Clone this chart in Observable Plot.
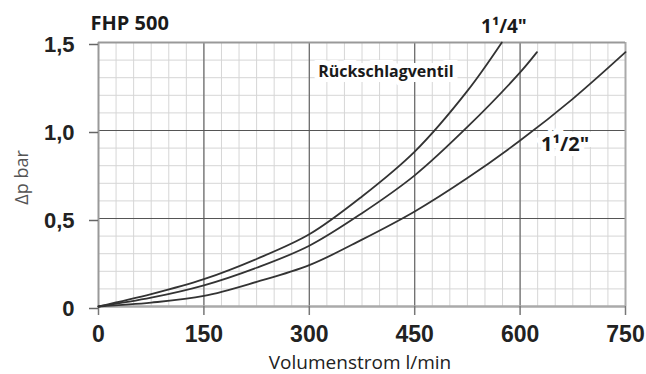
<!DOCTYPE html>
<html><head><meta charset="utf-8">
<script src="https://cdn.jsdelivr.net/npm/d3@7"></script>
<script src="https://cdn.jsdelivr.net/npm/@observablehq/plot@0.6"></script>
<style>
body{margin:0;background:#fff}
#chart{width:646px;height:374px}
</style>
</head><body><div id="chart"></div>
<script>
// ---- data ----
const title = "FHP 500";
const xLabel = "Volumenstrom l/min";
const yLabel = "Δp bar";
const xTicks = [0, 150, 300, 450, 600, 750];
const yTicks = [0, 0.5, 1.0, 1.5];
const yTickLabels = ["0", "0,5", "1,0", "1,5"];
const xMinor = d3.range(0, 751, 25);
const yMinor = d3.range(0, 16).map(i => i / 10);

// curve 1 (Rückschlagventil, 1 1/4")
const flowA = [0, 75, 150, 225, 300, 375, 450, 525, 574];
const dpA   = [0, 0.07, 0.155, 0.27, 0.41, 0.625, 0.88, 1.225, 1.5];
// curve 2
const flowB = [0, 75, 150, 225, 300, 375, 450, 525, 600, 624];
const dpB   = [0, 0.05, 0.12, 0.22, 0.345, 0.53, 0.745, 1.02, 1.33, 1.445];
// curve 3 (1 1/2")
const flowC = [0, 75, 150, 225, 300, 375, 450, 525, 600, 675, 750];
const dpC   = [0, 0.022, 0.06, 0.14, 0.235, 0.38, 0.54, 0.73, 0.943, 1.18, 1.445];

// annotations
const noteText = ["Rückschlagventil", "1¹/4\"", "1¹/2\""];
const noteFlow = [409, 577, 664];
const noteDp   = [1.335, 1.59, 0.918];
const noteSize = [16, 19, 20];

// ---- build ----
const toRows = (xs, ys, s) => xs.map((x, i) => ({x, y: ys[i], s}));
const rows = [...toRows(flowA, dpA, "A"), ...toRows(flowB, dpB, "B"), ...toRows(flowC, dpC, "C")];
const notes = noteText.map((t, i) => ({t, x: noteFlow[i], y: noteDp[i], size: noteSize[i]}));

const textFont = "'Open Sans', sans-serif";
const numFont = "'Liberation Sans', Arial, sans-serif";

const chart = Plot.plot({
  width: 646,
  height: 374,
  marginLeft: 98,
  marginRight: 21,
  marginTop: 42,
  marginBottom: 68,
  style: {background: "#fff", fontFamily: textFont},
  x: {domain: [0, 750], axis: null},
  y: {domain: [0, 1.5], axis: null},
  marks: [
    // minor grid
    Plot.ruleX(xMinor, {stroke: "#d6d6d6", strokeWidth: 1}),
    Plot.ruleY(yMinor, {stroke: "#d6d6d6", strokeWidth: 1}),
    // major grid
    Plot.ruleX(xTicks.slice(1, -1), {stroke: "#666", strokeWidth: 1.2}),
    Plot.ruleY(yTicks.slice(1, -1), {stroke: "#555", strokeWidth: 1.2}),
    // frame
    Plot.ruleX([750], {stroke: "#aaa", strokeWidth: 2}),
    Plot.ruleY([1.5], {stroke: "#999", strokeWidth: 2}),
    Plot.ruleX([0], {stroke: "#999", strokeWidth: 2}),
    Plot.ruleY([0], {stroke: "#aaa", strokeWidth: 2.5}),
    // axes
    Plot.axisX(xTicks, {
      label: null, tickSize: 9, tickPadding: 10, stroke: "#777", strokeWidth: 1.5, fill: "#222",
      fontSize: 23, fontWeight: "bold", fontFamily: numFont, tickFormat: d => String(d)
    }),
    Plot.axisY(yTicks, {
      label: null, tickSize: 9, tickPadding: 15, stroke: "#666", strokeWidth: 1.5, fill: "#222",
      fontSize: 22, fontWeight: "bold", fontFamily: numFont, dy: 2,
      tickFormat: d => yTickLabels[yTicks.indexOf(d)]
    }),
    // curves
    Plot.line(rows, {x: "x", y: "y", z: "s", curve: "catmull-rom", stroke: "#333", strokeWidth: 1.8}),
    // annotations
    Plot.text(notes, {
      x: "x", y: "y", text: "t", fontSize: d => d.size, fontWeight: "bold", fill: "#1a1a1a",
      stroke: "white", strokeWidth: 10, paintOrder: "stroke", strokeLinejoin: "miter",
      lineAnchor: "middle", fontFamily: textFont
    }),
    // title
    Plot.text([title], {
      frameAnchor: "top-left", textAnchor: "start", lineAnchor: "middle",
      dx: -8, dy: -19, fontSize: 20, fontWeight: "bold", fill: "#1a1a1a"
    }),
    // y label
    Plot.text([yLabel], {
      frameAnchor: "left", textAnchor: "middle", lineAnchor: "middle", rotate: -90,
      dx: -76, dy: 3, fontSize: 18, fill: "#555"
    }),
    // x label
    Plot.text([xLabel], {
      frameAnchor: "bottom", textAnchor: "middle", lineAnchor: "middle",
      dx: -2, dy: 56, fontSize: 19, fill: "#222"
    })
  ]
});
document.getElementById("chart").appendChild(chart);
</script>
</body></html>
